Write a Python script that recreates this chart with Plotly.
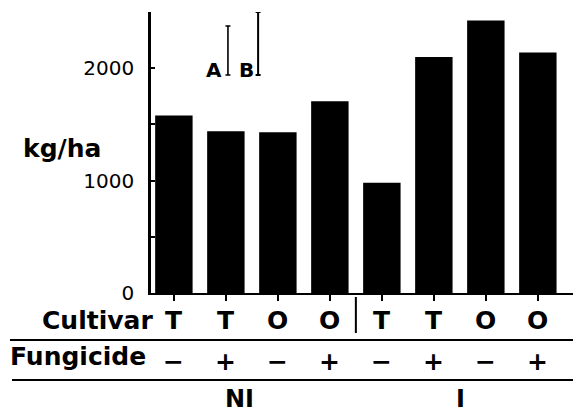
import plotly.graph_objects as go

# ---- data ----
cultivar = ["T", "T", "O", "O", "T", "T", "O", "O"]
fungicide = ["−", "+", "−", "+", "−", "+", "−", "+"]
yield_kg_ha = [1580, 1440, 1430, 1705, 980, 2100, 2425, 2140]
groups = ["NI", "I"]
group_pos = [1.27, 5.52]
lsd_labels = ["A", "B"]
lsd_base = [1940, 1940]
lsd_len = [435, 560]
lsd_x = [1.04, 1.62]
lsd_label_x = [0.77, 1.39]
y_tickvals = [0, 500, 1000, 1500, 2000, 2500]
y_ticktext = ["0", "", "1000", "", "2000", ""]

idx = list(range(len(yield_kg_ha)))
FONT = "DejaVu Sans"

fig = go.Figure()
fig.add_trace(go.Bar(x=idx, y=yield_kg_ha, width=0.72,
                     marker=dict(color="black", line=dict(width=0)),
                     showlegend=False, hoverinfo="skip"))

# LSD bars A and B
for i in range(2):
    fig.add_trace(go.Scatter(
        x=[lsd_x[i]], y=[lsd_base[i]], mode="markers",
        marker=dict(size=1, color="rgba(0,0,0,0)"),
        error_y=dict(type="data", symmetric=False, array=[lsd_len[i]],
                     arrayminus=[0], color="black",
                     thickness=1.6 if i == 0 else 2, width=2.5),
        showlegend=False, hoverinfo="skip"))
    fig.add_annotation(x=lsd_label_x[i], y=1985, xref="x", yref="y",
                       text="<b>%s</b>" % lsd_labels[i], showarrow=False,
                       font=dict(family=FONT, size=20, color="black"),
                       xanchor="center", yanchor="middle")

H = 281.0  # plot-area height in px for paper conversions
def py(px):
    return (293 - px) / H

# Row labels
fig.add_annotation(x=0.0093, y=py(320), xref="paper", yref="paper",
                   text="<b>Cultivar</b>", showarrow=False,
                   font=dict(family=FONT, size=25, color="black"),
                   xanchor="right", yanchor="middle")
fig.add_annotation(x=-0.007, y=py(356), xref="paper", yref="paper",
                   text="<b>Fungicide</b>", showarrow=False,
                   font=dict(family=FONT, size=25, color="black"),
                   xanchor="right", yanchor="middle")
for i in idx:
    fig.add_annotation(x=i, y=py(320), xref="x", yref="paper",
                       text="<b>%s</b>" % cultivar[i], showarrow=False,
                       font=dict(family=FONT, size=25, color="black"),
                       xanchor="center", yanchor="middle")
    fig.add_annotation(x=i, y=py(361), xref="x", yref="paper",
                       text="<b>%s</b>" % fungicide[i], showarrow=False,
                       font=dict(family=FONT, size=25, color="black"),
                       xanchor="center", yanchor="middle")
for g, gx in zip(groups, group_pos):
    fig.add_annotation(x=gx, y=py(399), xref="x", yref="paper",
                       text="<b>%s</b>" % g, showarrow=False,
                       font=dict(family=FONT, size=24, color="black"),
                       xanchor="center", yanchor="middle")

# y title
fig.add_annotation(x=(62 - 151) / 430, y=py(148), xref="paper", yref="paper",
                   text="<b>kg/ha</b>", showarrow=False,
                   font=dict(family=FONT, size=25, color="black"),
                   xanchor="center", yanchor="middle")

# table lines
fig.add_shape(type="line", xref="paper", yref="paper",
              x0=(10 - 151) / 430, x1=1, y0=py(340), y1=py(340),
              line=dict(color="black", width=2))
fig.add_shape(type="line", xref="paper", yref="paper",
              x0=(12 - 151) / 430, x1=1, y0=py(380), y1=py(380),
              line=dict(color="black", width=2))
fig.add_shape(type="line", xref="x", yref="paper",
              x0=3.5, x1=3.5, y0=py(297), y1=py(333),
              line=dict(color="black", width=2))

fig.update_xaxes(range=[-0.44, 7.83], showline=True, linecolor="black",
                 linewidth=2, ticks="outside", ticklen=6, tickwidth=2,
                 tickcolor="black", tickvals=idx, showticklabels=False,
                 showgrid=False, zeroline=False, fixedrange=True)
fig.update_yaxes(range=[0, 2500], showline=True, linecolor="black",
                 linewidth=2.5, ticks="inside", ticklen=4, tickwidth=2,
                 tickcolor="black", tickvals=y_tickvals, ticktext=y_ticktext,
                 tickfont=dict(family=FONT, size=20, color="black"),
                 ticklabelstandoff=10,
                 showgrid=False, zeroline=False, fixedrange=True)

# page body has an 8px default margin: size the figure to fit the window
fig.update_layout(width=573, height=406,
                  margin=dict(l=143, r=0, t=4, b=121),
                  plot_bgcolor="white", paper_bgcolor="white",
                  bargap=0.28, showlegend=False)

fig.write_html("out.html")
